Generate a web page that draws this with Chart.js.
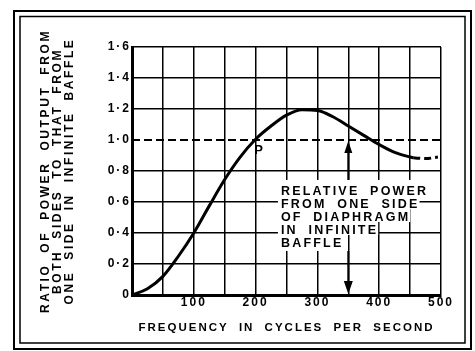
<!DOCTYPE html>
<html>
<head>
<meta charset="utf-8">
<script src="https://cdn.jsdelivr.net/npm/chart.js@4/dist/chart.umd.min.js"></script>
<style>
  html, body { margin: 0; padding: 0; background: #fff; }
  #wrap { width: 475px; height: 351px; position: relative; }
</style>
</head>
<body>
<div id="wrap"><canvas id="c" width="475" height="351"></canvas></div>
<script>
// Ratio of power output (both sides / one side in infinite baffle) vs frequency
const freqs = [0, 25, 50, 75, 100, 125, 150, 175, 200, 225, 250, 275, 300, 325, 350, 375, 400, 425, 450, 455];
const ratios = [0, 0.04, 0.12, 0.25, 0.40, 0.575, 0.745, 0.89, 1.005, 1.09, 1.16, 1.195, 1.19, 1.15, 1.09, 1.03, 0.97, 0.92, 0.89, 0.885];
// extrapolated (dashed) continuation
const tailFreqs = [455, 475, 495];
const tailRatios = [0.885, 0.88, 0.89];
// reference level: one side in infinite baffle
const refFreqs = [0, 500];
const refRatios = [1.0, 1.0];

const yTickLabels = ['0', '0·2', '0·4', '0·6', '0·8', '1·0', '1·2', '1·4', '1·6'];
const xTickLabels = ['100', '200', '300', '400', '500'];

const yTitle = ['RATIO OF POWER OUTPUT FROM', 'BOTH SIDES TO THAT FROM', 'ONE SIDE IN INFINITE BAFFLE'];
const xTitle = 'FREQUENCY IN CYCLES PER SECOND';
const noteLines = ['RELATIVE POWER', 'FROM ONE SIDE', 'OF DIAPHRAGM', 'IN INFINITE', 'BAFFLE'];
const pointLabel = 'P';

const zip = (xs, ys) => xs.map((x, i) => ({ x, y: ys[i] }));

const FONT = '"Liberation Sans", Arial, sans-serif';

// draw a scale title with its own letter spacing
function spacedTitle(scale, spacing) {
  if (scale._spacedTitle) return;
  const orig = scale.drawTitle;
  scale.drawTitle = function () {
    this.ctx.save();
    this.ctx.letterSpacing = spacing;
    this.ctx.wordSpacing = '5px';
    orig.call(this);
    this.ctx.restore();
  };
  scale._spacedTitle = true;
}

// page background, double frame and wide type spacing
const pagePlugin = {
  id: 'page',
  beforeDraw(chart) {
    const ctx = chart.ctx;
    ctx.save();
    ctx.fillStyle = '#fff';
    ctx.fillRect(0, 0, chart.width, chart.height);
    ctx.strokeStyle = '#000';
    ctx.lineWidth = 2;
    ctx.strokeRect(14, 11, 457, 338);
    ctx.lineWidth = 1.5;
    ctx.strokeRect(20, 16.5, 445, 326.5);
    ctx.restore();
    ctx.letterSpacing = '2px';
    ctx.wordSpacing = '5px';
  }
};

// note text with arrows, and the point label
const notePlugin = {
  id: 'note',
  beforeDatasetsDraw(chart) {
    const ctx = chart.ctx;
    const xs = chart.scales.x, ys = chart.scales.y;
    const left = xs.getPixelForValue(241);
    const top = ys.getPixelForValue(0.71);
    const lh = 13;
    ctx.save();
    ctx.font = 'bold 12.5px ' + FONT;
    ctx.letterSpacing = '2.2px';
    ctx.wordSpacing = '5px';
    ctx.textBaseline = 'top';
    ctx.textAlign = 'left';
    // knock out grid behind each text line
    ctx.fillStyle = '#fff';
    noteLines.forEach((t, i) => {
      const w = ctx.measureText(t).width;
      const y0 = i === 0 ? top - 5 : top + i * lh - 2;
      const y1 = top + (i + 1) * lh - 2 + (i === noteLines.length - 1 ? 3 : 0);
      ctx.fillRect(left - 3, y0, w + 3, y1 - y0);
    });
    ctx.fillStyle = '#000';
    noteLines.forEach((t, i) => ctx.fillText(t, left, top + i * lh));

    // arrows at 350 c/s
    const ax = xs.getPixelForValue(350);
    const upTip = ys.getPixelForValue(1.0) + 1;
    const upStart = top - 5;
    const downStart = top + noteLines.length * lh + 1;
    const downTip = ys.getPixelForValue(0) - 1;
    ctx.strokeStyle = '#000';
    ctx.lineWidth = 2;
    ctx.beginPath();
    ctx.moveTo(ax, upStart); ctx.lineTo(ax, upTip + 10);
    ctx.moveTo(ax, downStart); ctx.lineTo(ax, downTip - 10);
    ctx.stroke();
    ctx.beginPath();
    ctx.moveTo(ax, upTip); ctx.lineTo(ax - 4, upTip + 12); ctx.lineTo(ax + 4, upTip + 12); ctx.closePath();
    ctx.moveTo(ax, downTip); ctx.lineTo(ax - 4.5, downTip - 13); ctx.lineTo(ax + 4.5, downTip - 13); ctx.closePath();
    ctx.fill();

    // P where the curve crosses unity
    ctx.letterSpacing = '0px';
    ctx.font = 'bold 13px ' + FONT;
    ctx.textAlign = 'center';
    ctx.textBaseline = 'middle';
    ctx.fillText(pointLabel, xs.getPixelForValue(205), ys.getPixelForValue(0.935));
    ctx.restore();
  }
};

new Chart(document.getElementById('c'), {
  type: 'line',
  data: {
    datasets: [
      { data: zip(refFreqs, refRatios), borderColor: '#000', borderWidth: 2, borderDash: [8, 4], pointRadius: 0, tension: 0 },
      { data: zip(freqs, ratios), borderColor: '#000', borderWidth: 3, pointRadius: 0, cubicInterpolationMode: 'monotone' },
      { data: zip(tailFreqs, tailRatios), borderColor: '#000', borderWidth: 3, borderDash: [7, 4], pointRadius: 0, cubicInterpolationMode: 'monotone' }
    ]
  },
  options: {
    responsive: false,
    animation: false,
    devicePixelRatio: 1,
    layout: { padding: { left: 0, top: 47, right: 34, bottom: 0 } },
    plugins: { legend: { display: false }, tooltip: { enabled: false } },
    scales: {
      x: {
        type: 'linear', min: 0, max: 500,
        afterFit(s) { s.height = 56; spacedTitle(s, '2px'); },
        ticks: {
          stepSize: 50, autoSkip: false, maxRotation: 0, padding: 0,
          color: '#000', font: { family: FONT, size: 12, weight: 'bold' },
          callback: v => (v > 0 && v % 100 === 0) ? xTickLabels[v / 100 - 1] : ''
        },
        grid: { color: '#000', lineWidth: 1.5, drawTicks: false },
        border: { color: '#000', width: 3 },
        title: {
          display: true, text: xTitle, color: '#000',
          font: { family: FONT, size: 11.5, weight: 'bold' },
          padding: { top: 0, bottom: 16 }
        }
      },
      y: {
        min: 0, max: 1.6,
        afterFit(s) { s.width = 132; spacedTitle(s, '2.6px'); },
        ticks: {
          stepSize: 0.2, autoSkip: false, padding: 1,
          color: '#000', font: { family: FONT, size: 12, weight: 'bold' },
          callback: (v) => yTickLabels[Math.round(v / 0.2)]
        },
        grid: {
          lineWidth: 1.5, drawTicks: false,
          color: c => (c.tick && Math.abs(c.tick.value - 1) < 1e-6) ? 'rgba(0,0,0,0)' : '#000'
        },
        border: { color: '#000', width: 3 },
        title: {
          display: true, text: yTitle, color: '#000',
          font: { family: FONT, size: 12, weight: 'bold', lineHeight: 1.0 },
          padding: { top: 40, bottom: 0 }
        }
      }
    }
  },
  plugins: [pagePlugin, notePlugin]
});
</script>
</body>
</html>
